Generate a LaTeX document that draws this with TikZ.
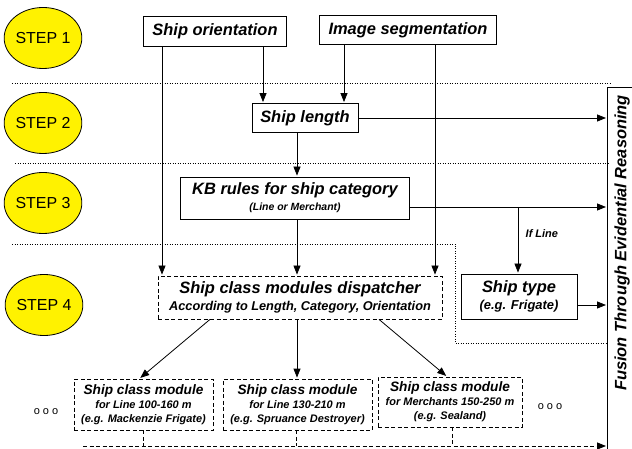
\documentclass[tikz,border=0pt]{standalone}
\usepackage{fontspec}
\setmainfont{Liberation Sans}
\usepackage{tikz}
\usetikzlibrary{shapes,arrows.meta}
\usetikzlibrary{positioning}
\tikzstyle{stepnode} = [draw, ellipse, fill=yellow, minimum width=75bp,
minimum height=61bp, inner sep=0pt, font=\fontsize{16}{18}\selectfont]
\tikzstyle{block} = [draw, rectangle, inner sep=0pt, align=center,
font=\bfseries\itshape\fontsize{16.5}{18}\selectfont]
\tikzstyle{dblock} = [block, dash pattern=on 4bp off 2.5bp]
\tikzstyle{line} = [draw, -{Triangle[length=9bp,width=7bp]}, shorten >=1bp]
\tikzstyle{sep} = [draw, dash pattern=on 1bp off 1.5bp, line width=0.6bp]
\newcommand{\smalltxt}[2]{{\fontsize{#1}{#1}\selectfont #2}}

\begin{document}
\begin{tikzpicture}[x=1bp, y=-1bp, line width=0.8bp]
    \useasboundingbox (0,0) rectangle (632,449);
    %% Steps
    \node [stepnode] (s1) at (43,38) {STEP 1};
    \node [stepnode] (s2) at (43,123) {STEP 2};
    \node [stepnode] (s3) at (43,203) {STEP 3};
    \node [stepnode] (s4) at (44,305) {STEP 4};
    %% Separators
    \path [sep] (12,83) -- (610,83);
    \path [sep] (15,163) -- (608,163);
    \path [sep] (12,244) -- (455,244) -- (455,343) -- (607,343);
    %% Blocks
    \node [block, minimum width=143bp, minimum height=30bp] (orient) at (215,31) {Ship orientation};
    \node [block, minimum width=177bp, minimum height=29bp] (seg) at (408,30) {Image segmentation};
    \node [block, minimum width=106bp, minimum height=29bp] (len) at (305,118) {Ship length};
    \node [block, minimum width=229bp, minimum height=42bp] (kb) at (295,198)
        {KB rules for ship category\\[-2bp]\smalltxt{10.5}{(Line or Merchant)}};
    \node [dblock, minimum width=284bp, minimum height=43bp] (disp) at (300,297.5)
        {Ship class modules dispatcher\\[-1bp]\smalltxt{12.8}{According to Length, Category, Orientation}};
    \node [block, minimum width=116bp, minimum height=45bp] (type) at (519,296.5)
        {Ship type\\[-1bp]\smalltxt{13}{(e.g. Frigate)}};
    \node [dblock, minimum width=139bp, minimum height=51bp, font=\bfseries\itshape\fontsize{13.7}{14}\selectfont] (m1) at (143.5,404.5)
        {Ship class module\\\smalltxt{11}{for Line 100-160 m}\\\smalltxt{11}{(e.g. Mackenzie Frigate)}};
    \node [dblock, minimum width=149bp, minimum height=51bp, font=\bfseries\itshape\fontsize{13.7}{14}\selectfont] (m2) at (297.5,404.5)
        {Ship class module\\\smalltxt{11}{for Line 130-210 m}\\\smalltxt{11}{(e.g. Spruance Destroyer)}};
    \node [dblock, minimum width=144bp, minimum height=50bp, font=\bfseries\itshape\fontsize{13.7}{14}\selectfont] (m3) at (450,402)
        {Ship class module\\\smalltxt{11}{for Merchants 150-250 m}\\\smalltxt{11}{(e.g. Sealand)}};
    \node [font=\fontsize{11}{11}\selectfont] (dl) at (46,412) {o o o};
    \node [font=\fontsize{11}{11}\selectfont] (dr) at (550,407) {o o o};
    %% Fusion
    \draw (632,87) -- (607,87) -- (607,449);
    \node [rotate=90, font=\bfseries\itshape\fontsize{16.5}{18}\selectfont] (fusion) at (622,243)
        {Fusion Through Evidential Reasoning};
    \coordinate (fus) at (607,87);
    \coordinate (cA) at (162,0);
    \coordinate (cB) at (263,0);
    \coordinate (cC) at (297,0);
    \coordinate (cD) at (344,0);
    \coordinate (cE) at (435,0);
    \coordinate (cF) at (518,0);
    \coordinate (rKB) at (0,207);
    \coordinate (rTy) at (0,305);
    \coordinate (rBot) at (83,446);
    %% Arrows
    \path [line] (orient.south -| cB) -- (len.north -| cB);
    \path [line] (seg.south -| cD) -- (len.north -| cD);
    \path [line] (orient.south -| cA) -- (disp.north -| cA);
    \path [line] (seg.south -| cE) -- (disp.north -| cE);
    \path [line] (len.south -| cC) -- (kb.north -| cC);
    \path [line] (kb.south -| cC) -- (disp.north -| cC);
    \path [line] (len.east) -- (len.east -| fus);
    \path [line] (kb.east |- rKB) -- (fus |- rKB);
    \path [line] (cF |- rKB) -- node [pos=0.4, right=4bp, font=\bfseries\itshape\fontsize{11}{11}\selectfont] (ifl) {If Line} (type.north -| cF);
    \path [line] (type.east |- rTy) -- (fus |- rTy);
    %% Dispatcher to modules
    \path [line] ([xshift=-90bp]disp.south) -- ([xshift=-4bp]m1.north);
    \path [line] (disp.south -| cC) -- (m2.north -| cC);
    \path [line] ([xshift=79bp]disp.south) -- ([xshift=-3bp]m3.north);
    %% Modules to fusion
    \draw [dash pattern=on 4bp off 2.5bp] (m1.south) -- (m1.south |- rBot);
    \draw [dash pattern=on 4bp off 2.5bp] ([xshift=-1.5bp]m2.south) -- ([xshift=-1.5bp]m2.south |- rBot);
    \draw [dash pattern=on 4bp off 2.5bp] ([xshift=2bp]m3.south) -- ([xshift=2bp]m3.south |- rBot);
    \path [line, dash pattern=on 4bp off 2.5bp] (rBot) -- (fus |- rBot);
\end{tikzpicture}
\end{document}
